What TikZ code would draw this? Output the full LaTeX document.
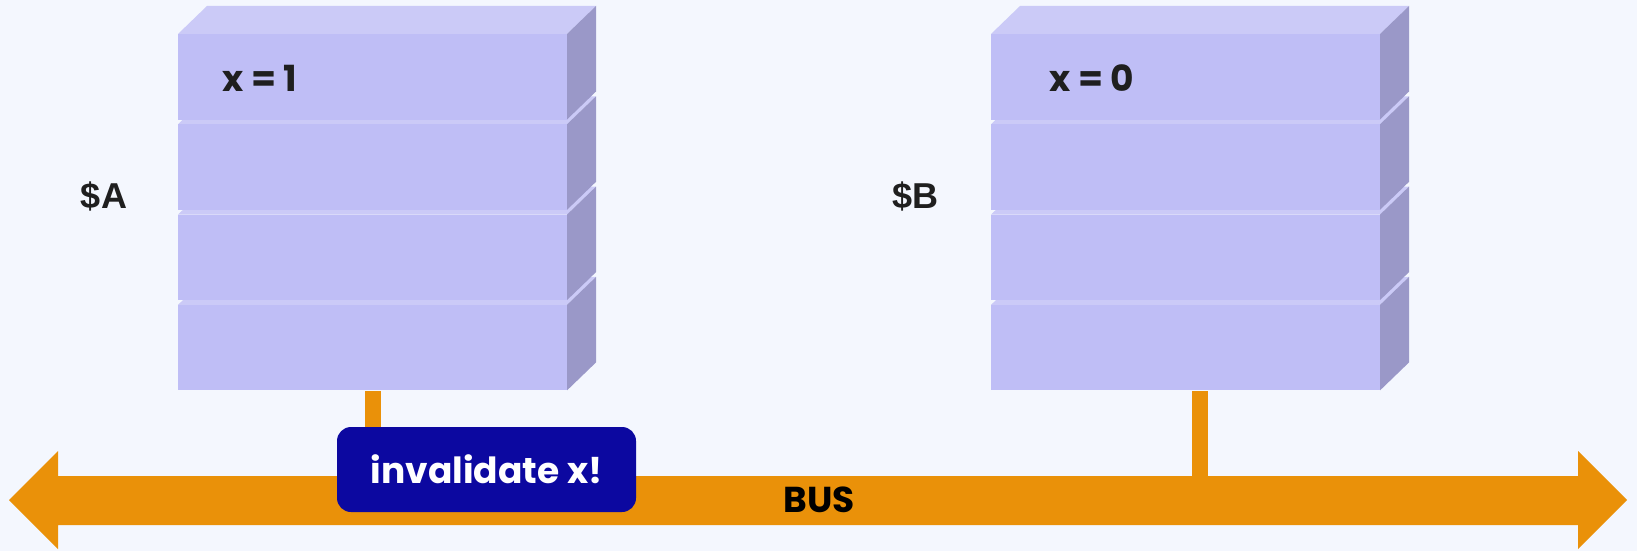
\documentclass[tikz,border=0pt]{standalone}
\usepackage{fontspec}
\newfontfamily\pop{Poppins}
\newfontfamily\lib{Liberation Sans}
\definecolor{bgc}{HTML}{F4F7FE}
\definecolor{frontc}{HTML}{BFBEF6}
\definecolor{topc}{HTML}{CBCAF7}
\definecolor{sidec}{HTML}{9A98C8}
\definecolor{busc}{HTML}{EA9109}
\definecolor{boxc}{HTML}{0C08A0}
\definecolor{txtc}{HTML}{1F1F1F}
\newcommand\layerbox[2]{%
  \fill[topc] (#1,#2) -- ++(29,-28) -- ++(389,0) -- ++(-29,28) -- cycle;
  \fill[sidec] (#1+389,#2) -- ++(29,-28) -- ++(0,85.5) -- ++(-29,28) -- cycle;
  \fill[frontc] (#1,#2) rectangle ++(389,85.5);
}
\tikzset{
  conn/.style={draw=busc, line width=16pt},
  stackbox/.style={minimum width=389pt, minimum height=357pt, inner sep=0pt},
  celltext/.style={font=\pop\bfseries\fontsize{36}{40}\selectfont, text=txtc, inner sep=0pt, anchor=west},
  cachename/.style={font=\lib\bfseries\fontsize{36}{40}\selectfont, text=txtc, inner sep=0pt},
  msgbox/.style={fill=boxc, rounded corners=14pt, minimum width=299pt, minimum height=85pt, inner sep=0pt,
    font=\pop\bfseries\fontsize{36}{40}\selectfont, text=white},
  buslabel/.style={font=\pop\bfseries\fontsize{36}{40}\selectfont, text=black, inner sep=0pt}
}
\begin{document}
\begin{tikzpicture}[x=1pt,y=-1pt]
\fill[bgc] (0,0) rectangle (1637,551);
\useasboundingbox (0,0) rectangle (1637,551);
% stacks
\foreach \i in {3,2,1,0}{
  \pgfmathsetmacro\yt{34+90.3*\i}
  \layerbox{178}{\yt}
  \layerbox{991}{\yt}
}
\node[stackbox] (stackA) at (372.5,212.5) {};
\node[stackbox] (stackB) at (1185.5,212.5) {};
% bus
\coordinate (busTopA) at (372.5,476);
\coordinate (busTopB) at (1200,476);
\draw[conn] (stackA.south) -- (busTopA);
\draw[conn] ([xshift=14.5pt]stackB.south) -- (busTopB);
\fill[busc] (9,500) -- (58,451) -- (58,476) -- (1578,476) -- (1578,451) -- (1627,500)
  -- (1578,549) -- (1578,525) -- (58,525) -- (58,549) -- cycle;
\node[buslabel] (bus) at (819,500) {BUS};
% message
\node[msgbox] (msg) at (486.5,469.5) {invalidate x!};
% texts
\node[celltext] (xa) at (222,78) {x = 1};
\node[celltext] (xb) at (1049,78) {x = 0};
\node[cachename] (ca) at (104,196) {\$A};
\node[cachename] (cb) at (915,196) {\$B};
\end{tikzpicture}
\end{document}
